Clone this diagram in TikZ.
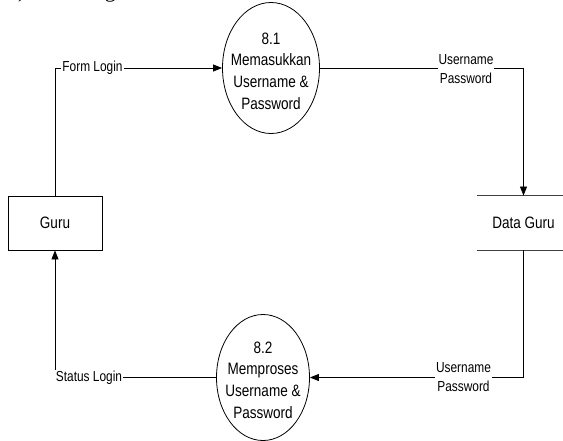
\documentclass[tikz,border=0pt]{standalone}
\usepackage{fontspec}
\setmainfont{Liberation Serif}
\newfontfamily\dfdfont[FakeStretch=0.82]{Liberation Sans}
\usetikzlibrary{shapes.geometric,arrows.meta}

\tikzset{
  flow/.style={draw=black, line width=0.8pt, -{Triangle[length=9pt,width=7pt]}},
  procshape/.style={ellipse, draw=black, line width=0.8pt, inner sep=0pt},
  proctext/.style={align=center, inner sep=0pt, font=\dfdfont\fontsize{16.5}{21.7}\selectfont},
  entity/.style={rectangle, draw=black, line width=0.8pt, minimum width=94pt, minimum height=54pt,
                 font=\dfdfont\fontsize{16.5}{20}\selectfont},
  store/.style={rectangle, minimum width=93pt, minimum height=54.5pt, inner sep=0pt,
                font=\dfdfont\fontsize{16.5}{20}\selectfont},
  storeline/.style={draw=black!75, line width=0.8pt},
  lbl/.style={fill=white, inner sep=1pt, align=center, font=\dfdfont\fontsize{14.5}{19}\selectfont},
  captext/.style={anchor=base west, inner sep=0pt, font=\fontsize{22}{26}\selectfont}
}

\begin{document}
\begin{tikzpicture}[x=1pt, y=-1pt]
  \clip (0,0) rectangle (563,440);
  \fill[white] (0,0) rectangle (563,440);

  % caption line above the diagram (only its descenders fall inside the frame)
  \node[captext] (capa) at (7,-2.5) {b)};
  \node[captext] (capb) at (73,-2.5) {Diagram};

  % external entity
  \node[entity] (guru) at (55,223) {Guru};

  % data store: two horizontal rules, open on the sides
  \node[store] (dg) at (523.5,223) {Data Guru};
  \draw[storeline] (dg.north west) -- (dg.north east);
  \draw[storeline] (dg.south west) -- (dg.south east);

  % processes
  \node[procshape, minimum width=97pt, minimum height=131pt] (p1) at (271,68) {};
  \node[proctext] (p1t) at (271,71) {8.1\\Memasukkan\\Username \&\\Password};

  \node[procshape, minimum width=93pt, minimum height=126pt] (p2) at (263,377.5) {};
  \node[proctext] (p2t) at (263,380) {8.2\\Memproses\\Username \&\\Password};

  % data flows
  \draw[flow] (guru.north) |- (p1.west);
  \draw[flow] (p1.east) -| (dg.north);
  \draw[flow] (dg.south) |- (p2.east);
  \draw[flow] (p2.west) -| (guru.south);

  % flow labels
  \node[lbl] (l1) at (92.5,68) {Form Login};
  \node[lbl] (l2) at (466,69.5) {Username\\Password};
  \node[lbl] (l3) at (463.5,377.5) {Username\\Password};
  \node[lbl] (l4) at (89,378) {Status Login};
\end{tikzpicture}
\end{document}
